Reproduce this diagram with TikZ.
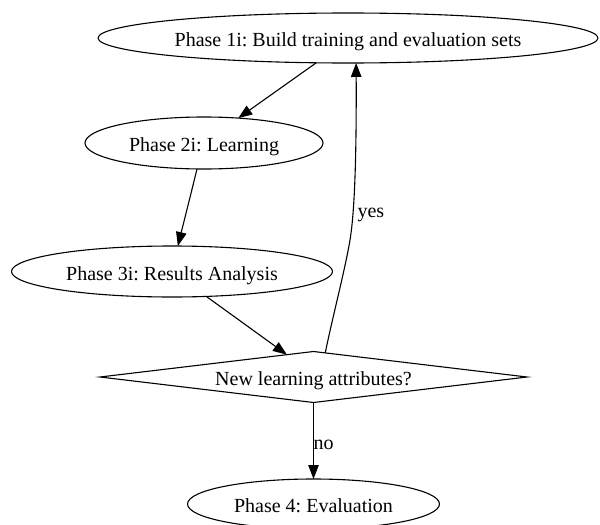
\documentclass[tikz,border=0pt]{standalone}
\usepackage{fontspec}
\setmainfont{Liberation Serif}
\usetikzlibrary{shapes.geometric,arrows.meta}
\frenchspacing
\begin{document}
\begin{tikzpicture}[x=1pt,y=-1pt,
  every node/.style={font=\fontsize{20}{24}\selectfont\frenchspacing, inner sep=0pt, outer sep=0pt, text height=17pt, text depth=0pt},
  phase/.style={draw, ellipse, line width=1.1pt},
  decision/.style={draw, diamond, shape aspect=8.4, line width=1.1pt, minimum width=427pt, minimum height=51pt},
  flow/.style={line width=1.1pt, -{Triangle[length=14pt,width=10.5pt]}},
  lbl/.style={anchor=base west}
]
\useasboundingbox (0,0) rectangle (600,525);

\node[phase, minimum width=500pt, minimum height=50pt] (n1) at (348,38) {Phase 1i: Build training and evaluation sets};
\node[phase, minimum width=238pt, minimum height=52pt] (n2) at (204,143) {Phase 2i: Learning};
\node[phase, minimum width=321pt, minimum height=51pt] (n3) at (172,271.5) {Phase 3i: Results Analysis};
\node[decision] (dia) at (313.5,377) {New learning attributes?};
\node[phase, minimum width=252pt, minimum height=50pt] (n4) at (313.5,504) {Phase 4: Evaluation};

\draw[flow] (n1.218.9) -- (n2.36.3);
\draw[flow] (n2.255) -- (n3.77.2);
\draw[flow] (n3.-36) -- (dia.140.6);
\draw[flow] (dia.64.4) .. controls (333,315) and (345,270) .. (350,240)
  .. controls (355,210) and (356.5,150) .. (n1.-72);
\draw[flow] (dia.south) -- (n4.north);

\node[lbl] (yes) at (357.5,217) {yes};
\node[lbl] (no) at (313.5,449) {no};
\end{tikzpicture}
\end{document}
